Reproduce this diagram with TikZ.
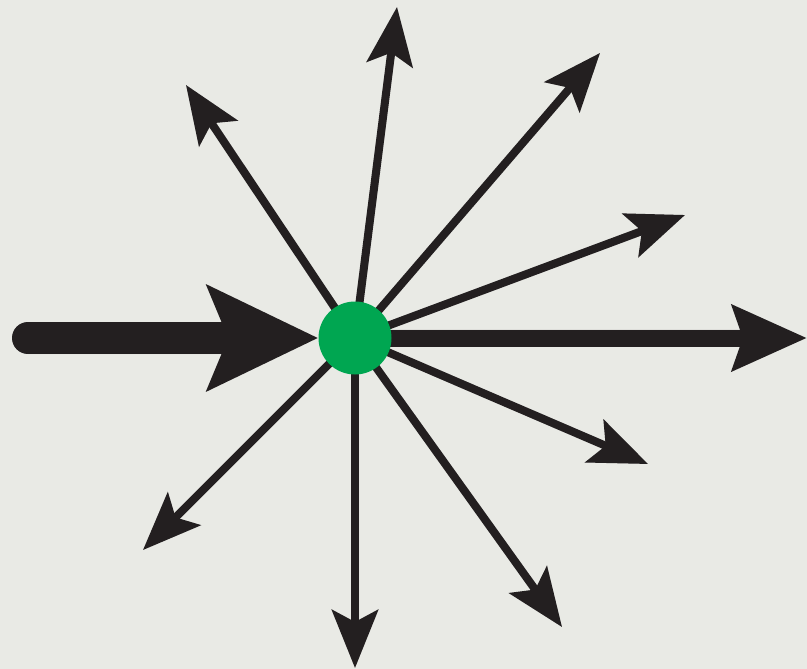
\documentclass[tikz,border=0pt]{standalone}
\usepackage{xcolor}
\usetikzlibrary{arrows.meta, backgrounds}
\definecolor{paper}{RGB}{233, 234, 229}
\definecolor{inkblack}{RGB}{35, 31, 32}
\definecolor{hubgreen}{RGB}{0, 166, 81}

\begin{document}
\begin{tikzpicture}[
    x=1pt, y=-1pt,
    hub/.style={circle, fill=hubgreen, inner sep=0pt, minimum size=73pt},
    ray/.style={-{Stealth[length=58pt, width=46pt, inset=12pt]}, line width=8pt},
    mainray/.style={-{Stealth[length=74pt, width=64pt, inset=10pt]}, line width=17pt},
    inray/.style={-{Stealth[length=110pt, width=103pt, inset=20pt]}, line width=32pt, line cap=round}
]
    \useasboundingbox (0,0) rectangle (807,669);

    \node[hub] (hub) at (355,338) {};

    % ray ends
    \foreach \name/\x/\y in {up/397/7, upleft/186/85, upright/600/53, rightup/685/215,
        rightdown/648/464, downright/562/627, down/355/668, downleft/143/550}
        \coordinate (\name) at (\x,\y);
    \coordinate (east) at (807,338);
    \coordinate (src) at (28,338);

    \begin{scope}[on background layer]
        \fill[paper] (0,0) rectangle (807,669);
        % soft shadow
        \begin{scope}[transparency group, opacity=0.13, shift={(3,5)}, color=black]
            \foreach \name in {up, upleft, upright, rightup, rightdown, downright, down, downleft}
                \draw[ray] (hub.center) -- (\name);
            \draw[mainray] (hub.center) -- (east);
            \draw[inray] (src) -- (hub.west);
        \end{scope}
        \begin{scope}[color=inkblack]
            \foreach \name in {up, upleft, upright, rightup, rightdown, downright, down, downleft}
                \draw[ray] (hub.center) -- (\name);
            \draw[mainray] (hub.center) -- (east);
            \draw[inray] (src) -- (hub.west);
        \end{scope}
    \end{scope}
\end{tikzpicture}
\end{document}
